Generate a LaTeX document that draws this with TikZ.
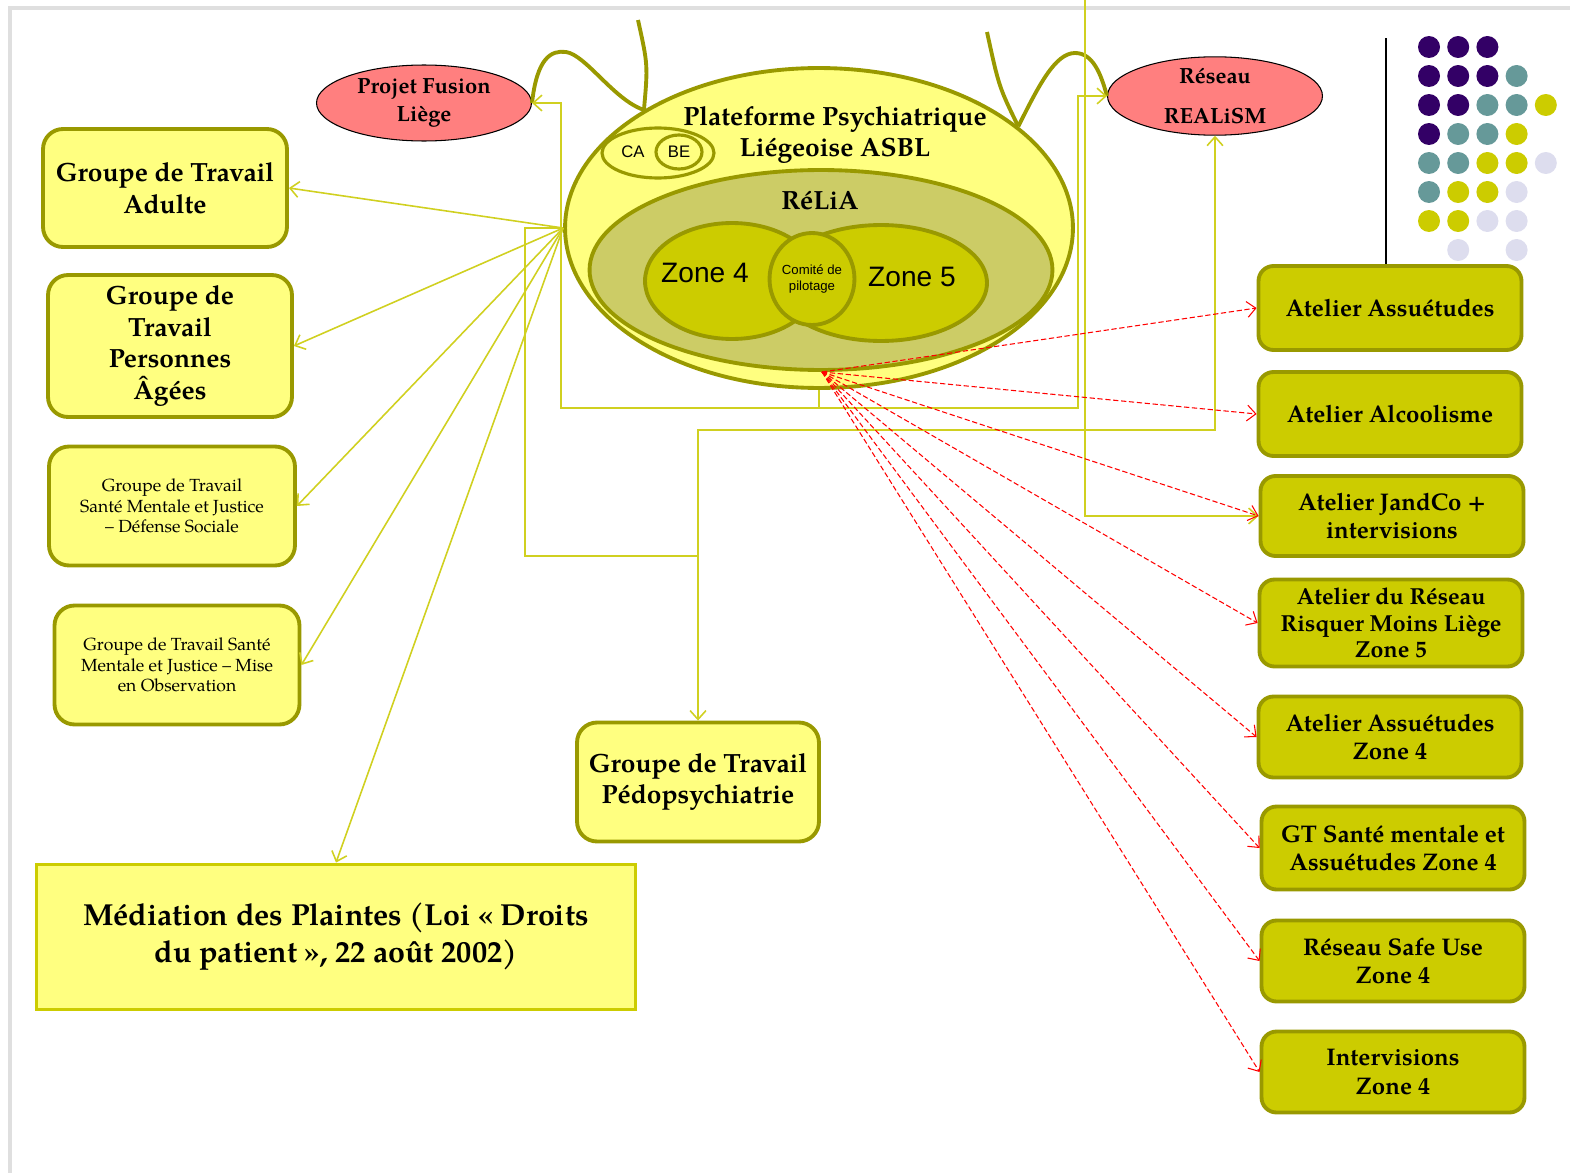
\documentclass[tikz,border=0pt]{standalone}
\usepackage{fontspec}
\setmainfont{texgyrepagella}[Extension=.otf,UprightFont=*-regular,BoldFont=*-bold,ItalicFont=*-italic,BoldItalicFont=*-bolditalic]
\newfontfamily\arialfont{Liberation Sans}
\usetikzlibrary{shapes.geometric,arrows.meta}
\definecolor{paleyellow}{HTML}{FFFF80}
\definecolor{oliveline}{HTML}{999900}
\definecolor{darkyellow}{HTML}{CCCC00}
\definecolor{reliafill}{HTML}{CCCC66}
\definecolor{linkyellow}{HTML}{D0D020}
\definecolor{pinkfill}{HTML}{FF7F7F}
\definecolor{dotpurple}{HTML}{330066}
\definecolor{dotteal}{HTML}{669999}
\definecolor{dotlav}{HTML}{DDDDEE}
\newcommand\bigtxt{\fontsize{15}{18}\selectfont\bfseries}
\newcommand\smalltxt{\fontsize{10}{11.6}\selectfont}
\tikzset{
  zone/.style={ellipse, draw=oliveline, line width=2.2pt, inner sep=0pt},
  wgbox/.style={rectangle, rounded corners=0.4cm, draw=oliveline, fill=paleyellow,
    line width=2.2pt, align=center, inner sep=2pt},
  atelier/.style={rectangle, rounded corners=0.3cm, draw=oliveline, fill=darkyellow,
    line width=2.2pt, align=center, inner sep=2pt, minimum width=5.26cm,
    font=\fontsize{13.7}{16.4}\selectfont\bfseries},
  project/.style={ellipse, draw=black, line width=0.6pt, fill=pinkfill, align=center,
    inner sep=0pt, minimum width=4.3cm, minimum height=1.52cm,
    font=\fontsize{12.5}{16}\selectfont\bfseries},
  link/.style={draw=linkyellow, line width=0.9pt},
  linkarrow/.style={link, -{Straight Barb[length=5pt,width=9pt]}},
  redlink/.style={draw=red, line width=0.6pt, dash pattern=on 3pt off 1.5pt,
    -{Straight Barb[length=5pt,width=9pt]}},
  wave/.style={draw=oliveline, line width=2.2pt},
}
\begin{document}
\begin{tikzpicture}[x=0.02cm,y=-0.02cm]
  \useasboundingbox (0,0) rectangle (1570,1173);
  \draw[gray!25, line width=2pt] (10,1173) -- (10,8) -- (1570,8);

  \node[zone, fill=paleyellow, minimum width=10.16cm, minimum height=6.4cm] (pp) at (819,228) {};
  \node[zone, fill=reliafill, minimum width=9.26cm, minimum height=4cm] (relia) at (821,270) {};
  \node[zone, fill=darkyellow, minimum width=3.48cm, minimum height=2.32cm] (z4) at (732,281) {};
  \node[zone, fill=darkyellow, minimum width=4.24cm, minimum height=2.32cm] (z5) at (881,283) {};
  \node[zone, fill=darkyellow, minimum width=1.64cm, minimum height=1.84cm, align=center,
    font=\arialfont\fontsize{7.5}{9.6}\selectfont] (cp) at (812,279) {Comité de\\pilotage};
  \node[zone, line width=1.8pt, minimum width=2.24cm, minimum height=1cm] (ca) at (658,153) {};
  \node[zone, line width=1.8pt, minimum width=0.92cm, minimum height=0.68cm,
    font=\arialfont\fontsize{9.5}{11}\selectfont] (be) at (679,152) {BE};
  \node[font=\arialfont\fontsize{9.5}{11}\selectfont] (catxt) at (633,152) {CA};
  \node[font=\bigtxt, align=center] (pptxt) at (835,135) {Plateforme Psychiatrique\\Liégeoise ASBL};
  \node[font=\bigtxt] (reliatxt) at (820,201) {RéLiA};
  \node[font=\arialfont\fontsize{16}{18}\selectfont] (z4txt) at (705,273) {Zone 4};
  \node[font=\arialfont\fontsize{16}{18}\selectfont] (z5txt) at (912,277) {Zone 5};

  \node[project] (pf) at (424,103) {Projet Fusion\\Liège};
  \node[project, font=\fontsize{12.5}{22.7}\selectfont\bfseries] (re) at (1215,96) {Réseau\\REALiSM};

  \node[wgbox, minimum width=4.88cm, minimum height=2.36cm, font=\bigtxt] (ga) at (165,188)
    {Groupe de Travail\\Adulte};
  \node[wgbox, minimum width=4.88cm, minimum height=2.84cm, font=\bigtxt] (gp) at (170,346)
    {Groupe de\\Travail\\Personnes\\Âgées};
  \node[wgbox, minimum width=4.92cm, minimum height=2.38cm, font=\smalltxt] (gd) at (172,506)
    {Groupe de Travail\\Santé Mentale et Justice\\– Défense Sociale};
  \node[wgbox, minimum width=4.9cm, minimum height=2.38cm, font=\smalltxt] (go) at (177,665)
    {Groupe de Travail Santé\\Mentale et Justice – Mise\\en Observation};
  \node[wgbox, rounded corners=0pt, draw=darkyellow, minimum width=11.98cm, minimum height=2.9cm,
    font=\fontsize{17.3}{21}\selectfont\bfseries] (med) at (336,937)
    {Médiation des Plaintes (Loi «~Droits\\du patient~», 22 août 2002)};
  \node[wgbox, minimum width=4.84cm, minimum height=2.38cm, font=\bigtxt] (pedo) at (698,782)
    {Groupe de Travail\\Pédopsychiatrie};

  \node[atelier, minimum height=1.68cm] (a1) at (1390,308) {Atelier Assuétudes};
  \node[atelier, minimum height=1.68cm] (a2) at (1390,414) {Atelier Alcoolisme};
  \node[atelier, minimum height=1.6cm] (a3) at (1392,516) {Atelier JandCo +\\intervisions};
  \node[atelier, minimum height=1.74cm, font=\fontsize{13.2}{15}\selectfont\bfseries] (a4) at (1391,623)
    {Atelier du Réseau\\Risquer Moins Liège\\Zone 5};
  \node[atelier, minimum height=1.62cm] (a5) at (1390,737) {Atelier Assuétudes\\Zone 4};
  \node[atelier, minimum height=1.66cm] (a6) at (1393,848) {GT Santé mentale et\\Assuétudes Zone 4};
  \node[atelier, minimum height=1.62cm] (a7) at (1393,961) {Réseau Safe Use\\Zone 4};
  \node[atelier, minimum height=1.62cm] (a8) at (1393,1072) {Intervisions\\Zone 4};

  \foreach \r/\c/\col in {0/0/dotpurple, 0/1/dotpurple, 0/2/dotpurple,
      1/0/dotpurple, 1/1/dotpurple, 1/2/dotpurple, 1/3/dotteal,
      2/0/dotpurple, 2/1/dotpurple, 2/2/dotteal, 2/3/dotteal, 2/4/darkyellow,
      3/0/dotpurple, 3/1/dotteal, 3/2/dotteal, 3/3/darkyellow,
      4/0/dotteal, 4/1/dotteal, 4/2/darkyellow, 4/3/darkyellow, 4/4/dotlav,
      5/0/dotteal, 5/1/darkyellow, 5/2/darkyellow, 5/3/dotlav,
      6/0/darkyellow, 6/1/darkyellow, 6/2/dotlav, 6/3/dotlav,
      7/1/dotlav, 7/3/dotlav}
    \fill[\col] ({1429+29.2*\c},{47+29*\r}) circle[radius=0.22cm];
  \coordinate (bar) at (1386,38);
  \draw[black, line width=0.8pt] (bar) -- (bar |- a1.north);

  \coordinate (st1) at (638,20);
  \coordinate (cw1) at (566,52);
  \coordinate (st2) at (987,32);
  \coordinate (cw2) at (1075,53);
  \draw[wave] (pf.east) .. controls +(5,-45) and +(-15,-2) .. (cw1)
    .. controls +(20,3) and +(-30,-10) .. (pp.146);
  \draw[wave] (pp.146) .. controls +(4,-45) .. (st1);
  \draw[wave] (st2) .. controls +(12,55) .. (pp.27);
  \draw[wave] (pp.27) .. controls +(20,-40) and +(-20,0) .. (cw2)
    .. controls +(18,0) and +(-6,-22) .. (re.west);

  \coordinate (lkpf) at (561,408);
  \coordinate (lkre) at (1078,408);
  \coordinate (lkjc) at (1085,0);
  \coordinate (lkped) at (525,556);
  \coordinate (lkmid) at (698,430);
  \foreach \n in {ga,gp,gd,go}
    \draw[linkarrow] (pp.west) -- (\n.east);
  \draw[linkarrow] (pp.west) -- (med.north);
  \draw[linkarrow] (pp.south) |- (lkpf) |- (pf.east);
  \draw[linkarrow] (pp.south) |- (lkre) |- (re.west);
  \draw[linkarrow] (lkjc) |- (a3.west);
  \draw[link] (pp.west) -| (lkped) -| (lkmid);
  \draw[link, {Straight Barb[length=5pt,width=9pt]}-{Straight Barb[length=5pt,width=9pt]}]
    (pedo.north) |- (lkmid) -| (re.south);

  \coordinate (hub) at (822,372);
  \foreach \i in {1,...,8}
    \draw[redlink] (hub) -- (a\i.west);
\end{tikzpicture}
\end{document}
